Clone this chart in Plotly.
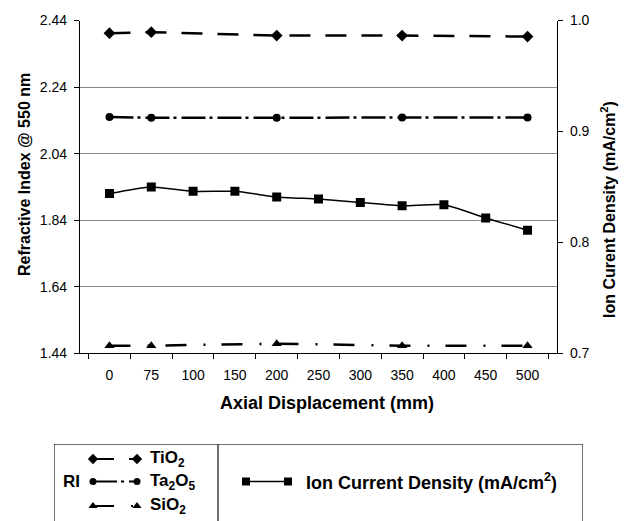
import plotly.graph_objects as go

# ---- data ----
categories = ["0", "75", "100", "150", "200", "250", "300", "350", "400", "450", "500"]
ri_x = ["0", "75", "200", "350", "500"]
tio2 = [2.402, 2.405, 2.395, 2.395, 2.392]
ta2o5 = [2.150, 2.148, 2.148, 2.149, 2.149]
sio2 = [1.463, 1.463, 1.469, 1.463, 1.463]
ion_current = [0.844, 0.850, 0.846, 0.846, 0.841, 0.839, 0.836, 0.833, 0.834, 0.822, 0.811]

left_ticks = [1.44, 1.64, 1.84, 2.04, 2.24, 2.44]
right_ticks = [0.7, 0.8, 0.9, 1.0]

W, H = 627, 521
FONT = "Liberation Sans, Arial, sans-serif"

def px(x):
    return x / W

def py(y):
    return 1 - y / H

# plot area in pixels
L, R, T, B = 80, 557, 20.5, 353.3

fig = go.Figure()

dash_ti = "21px,15px"
dash_ta = "24px,4px,3px,5px"
dash_si = "21px,17px,2px,16px"

fig.add_trace(go.Scatter(x=ri_x, y=tio2, mode="lines+markers", name="TiO2",
                         line=dict(color="black", width=2.5, dash=dash_ti),
                         marker=dict(symbol="diamond", size=9, color="black"),
                         xaxis="x", yaxis="y"))
fig.add_trace(go.Scatter(x=ri_x, y=ta2o5, mode="lines+markers", name="Ta2O5",
                         line=dict(color="black", width=2.5, dash=dash_ta),
                         marker=dict(symbol="circle", size=8, color="black"),
                         xaxis="x", yaxis="y"))
fig.add_trace(go.Scatter(x=ri_x, y=sio2, mode="lines+markers", name="SiO2",
                         line=dict(color="black", width=2.5, dash=dash_si),
                         marker=dict(symbol="triangle-up", size=9, color="black"),
                         xaxis="x", yaxis="y"))
fig.add_trace(go.Scatter(x=categories, y=ion_current, mode="lines+markers",
                         name="Ion Current Density",
                         line=dict(color="black", width=1.5, shape="spline", smoothing=0.6),
                         marker=dict(symbol="square", size=9, color="black"),
                         xaxis="x", yaxis="y2"))

# ---- legend glyphs (own hidden axis in the legend box) ----
LX0, LX1, LY0, LY1 = 54, 583, 444, 521
leg_rows = [(459, dash_ti, "diamond", 9), (481.5, dash_ta, "circle", 8), (506, dash_si, "triangle-up", 9)]
for yy, dsh, sym, sz in leg_rows:
    fig.add_trace(go.Scatter(x=[93, 137], y=[yy, yy], mode="lines+markers",
                             line=dict(color="black", width=2, dash=dsh),
                             marker=dict(symbol=sym, size=sz - 1, color="black"),
                             xaxis="x3", yaxis="y3", cliponaxis=False))
fig.add_trace(go.Scatter(x=[246, 288], y=[481.5, 481.5], mode="lines+markers",
                         line=dict(color="black", width=1.5),
                         marker=dict(symbol="square", size=8, color="black"),
                         xaxis="x3", yaxis="y3", cliponaxis=False))

axis_common = dict(showline=True, linecolor="black", linewidth=1.2,
                   ticks="outside", tickcolor="black", ticklen=5, tickwidth=1,
                   tickfont=dict(family=FONT, size=14, color="black"),
                   automargin=False)

fig.update_layout(
    width=W, height=H,
    margin=dict(l=0, r=0, t=0, b=0),
    paper_bgcolor="white", plot_bgcolor="rgba(0,0,0,0)",
    showlegend=False,
    xaxis=dict(domain=[px(L), px(R)], type="category",
               categoryorder="array", categoryarray=categories,
               tickson="boundaries", showgrid=False,
               ticklabelstandoff=9, **axis_common),
    yaxis=dict(domain=[py(B), py(T)], range=[1.44, 2.4402],
               tickvals=left_ticks, ticktext=[f"{v:.2f}" for v in left_ticks],
               showgrid=True, gridcolor="#8a8a8a", gridwidth=1.2, zeroline=False,
               ticklabelstandoff=4, **axis_common),
    yaxis2=dict(overlaying="y", side="right", anchor="x", range=[0.7, 1.0],
                tickvals=right_ticks, ticktext=[f"{v:.1f}" for v in right_ticks],
                showgrid=False, zeroline=False, ticklabelstandoff=4, **axis_common),
    xaxis3=dict(domain=[px(LX0), px(LX1)], range=[LX0, LX1], visible=False,
                anchor="y3", fixedrange=True),
    yaxis3=dict(domain=[0, py(LY0)], range=[LY1, LY0], visible=False,
                anchor="x3", fixedrange=True),
)

# legend box
box_col = "#404040"
for (x0, y0, x1, y1) in [(LX0, LY0, LX1, LY0), (LX0, LY0, LX0, LY1 + 5),
                         (LX1, LY0, LX1, LY1 + 5), (218, LY0, 218, LY1 + 5)]:
    fig.add_shape(type="line", xref="x3", yref="y3", x0=x0, y0=y0, x1=x1, y1=y1,
                  line=dict(color=box_col, width=1.5))

vbold = dict(family=FONT, size=16, color="black")
hbold = dict(family=FONT, size=18, color="black")
lbold = dict(family=FONT, size=17, color="black")
ann = []
# axis titles
ann.append(dict(text="<b>Refractive Index @ 550 nm</b>", x=px(24), y=py(175),
                xref="paper", yref="paper", xanchor="center", yanchor="middle",
                textangle=-90, showarrow=False, font=vbold))
ann.append(dict(text="<b>Ion Curent Density (mA/cm<sup>2</sup>)</b>", x=px(608), y=py(210),
                xref="paper", yref="paper", xanchor="center", yanchor="middle",
                textangle=-90, showarrow=False, font=vbold))
ann.append(dict(text="<b>Axial Displacement (mm)</b>", x=px(327), y=py(403),
                xref="paper", yref="paper", xanchor="center", yanchor="middle",
                showarrow=False, font=hbold))
# legend texts
ann.append(dict(text="<b>RI</b>", x=61, y=481.5, xref="x3", yref="y3", xanchor="left",
                yanchor="middle", showarrow=False, font=lbold))
for yy, lab in [(459, "<b>TiO<sub>2</sub></b>"), (481.5, "<b>Ta<sub>2</sub>O<sub>5</sub></b>"),
                (506, "<b>SiO<sub>2</sub></b>")]:
    ann.append(dict(text=lab, x=148, y=yy, xref="x3", yref="y3", xanchor="left",
                    yanchor="middle", showarrow=False, font=lbold))
ann.append(dict(text="<b>Ion Current Density (mA/cm<sup>2</sup>)</b>", x=304, y=481.5,
                xref="x3", yref="y3", xanchor="left", yanchor="middle",
                showarrow=False, font=hbold))
fig.update_layout(annotations=ann)

fig.write_html("out.html")
